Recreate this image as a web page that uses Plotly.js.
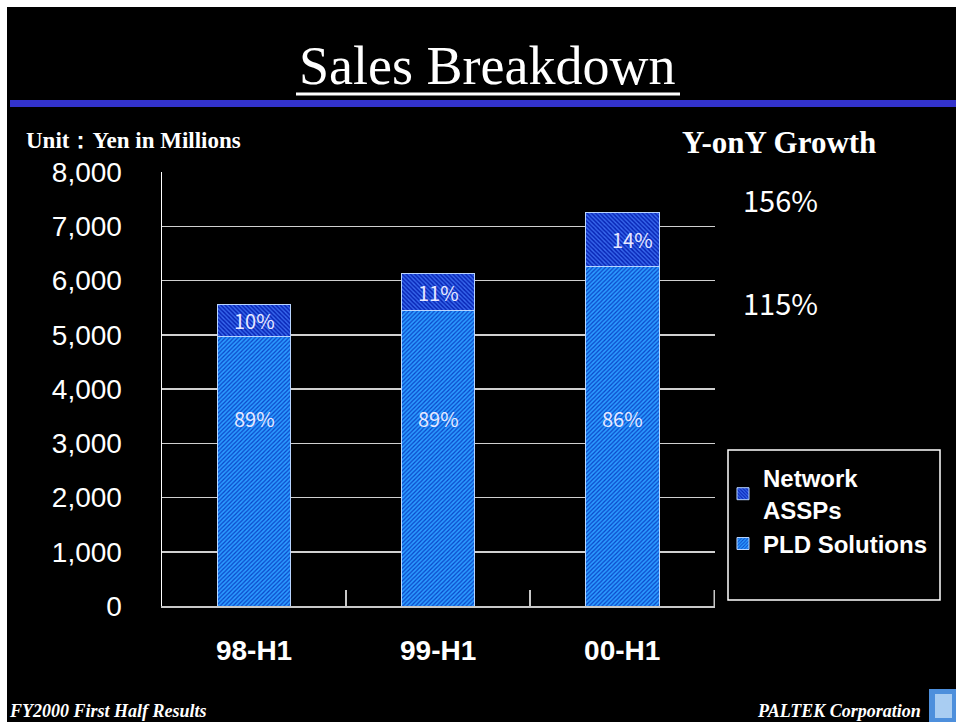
<!DOCTYPE html>
<html>
<head>
<meta charset="utf-8">
<script src="https://cdn.plot.ly/plotly-3.0.1.min.js"></script>
<style>
  html, body { margin: 0; padding: 0; background: #ffffff; }
  #chart { position: absolute; left: 7px; top: 7px; width: 949px; height: 715px; background: #000; }
</style>
</head>
<body>
<div id="chart"></div>
<script>
(function () {
  'use strict';

  /* data (yen, millions) */
  var categories = ['98-H1', '99-H1', '00-H1'];
  var pldSales = [4960, 5455, 6265];
  var networkSales = [590, 665, 995];
  var pldShare = ['89%', '89%', '86%'];
  var networkShare = ['10%', '11%', '14%'];
  var growthLabels = ['156%', '115%'];
  var yTicks = [0, 1000, 2000, 3000, 4000, 5000, 6000, 7000, 8000];

  /* page pixel -> paper coords (div sits at 7,7; plot area 553x434) */
  var L = 155, T = 165, W = 553, H = 434;
  function px(x) { return (x - 7 - L) / W; }
  function py(y) { return (T + H - (y - 7)) / H; }

  var GOTHIC = '"Noto Sans CJK JP", "Noto Sans", sans-serif';
  var SANS = '"Liberation Sans", Arial, sans-serif';
  var SERIF = '"Liberation Serif", "Times New Roman", serif';

  var traces = [
    {
      type: 'bar', x: categories, y: pldSales, name: 'PLD Solutions', width: 0.4,
      marker: {
        color: '#2b9bff',
        line: { color: '#b8d4ff', width: 1 },
        pattern: { shape: '/', fgcolor: '#0b45c8', bgcolor: '#2b9bff', size: 3, solidity: 0.4 }
      },
      hoverinfo: 'skip'
    },
    {
      type: 'bar', x: categories, y: networkSales, name: 'Network<br>ASSPs', width: 0.4,
      marker: {
        color: '#0a28b8',
        line: { color: '#b8d4ff', width: 1 },
        pattern: { shape: '\\', fgcolor: '#3a6cf0', bgcolor: '#0a28b8', size: 3, solidity: 0.45 }
      },
      hoverinfo: 'skip'
    }
  ];

  var anns = [];
  categories.forEach(function (c, i) {
    anns.push({ x: c, y: 3450, xref: 'x', yref: 'y', text: pldShare[i], showarrow: false,
      font: { family: GOTHIC, size: 20, color: '#e8e8ff' } });
    anns.push({ x: c, y: pldSales[i] + networkSales[i] / 2, xref: 'x', yref: 'y', text: networkShare[i],
      showarrow: false, xshift: i === 2 ? 10 : 0,
      font: { family: GOTHIC, size: 20, color: '#e8e8ff' } });
  });
  anns.push(
    { x: px(487), y: py(66), xref: 'paper', yref: 'paper', text: 'Sales Breakdown', showarrow: false,
      xanchor: 'center', yanchor: 'middle', font: { family: SERIF, size: 54, color: '#ffffff' } },
    { x: px(24), y: py(140), xref: 'paper', yref: 'paper', text: 'Unit：Yen in Millions', showarrow: false,
      xanchor: 'left', yanchor: 'middle', font: { family: SERIF, size: 23, color: '#ffffff', weight: 'bold' } },
    { x: px(680), y: py(143), xref: 'paper', yref: 'paper', text: 'Y-onY Growth', showarrow: false,
      xanchor: 'left', yanchor: 'middle', font: { family: SERIF, size: 31, color: '#ffffff', weight: 'bold' } },
    { x: px(741), y: py(199), xref: 'paper', yref: 'paper', text: growthLabels[0], showarrow: false,
      xanchor: 'left', yanchor: 'middle', font: { family: GOTHIC, size: 29, color: '#ffffff' } },
    { x: px(741), y: py(302), xref: 'paper', yref: 'paper', text: growthLabels[1], showarrow: false,
      xanchor: 'left', yanchor: 'middle', font: { family: GOTHIC, size: 29, color: '#ffffff' } },
    { x: px(7), y: py(711), xref: 'paper', yref: 'paper', text: 'FY2000 First Half Results', showarrow: false,
      xanchor: 'left', yanchor: 'middle', font: { family: SERIF, size: 18, color: '#ffffff', weight: 'bold', style: 'italic' } },
    { x: px(923), y: py(711), xref: 'paper', yref: 'paper', text: 'PALTEK Corporation', showarrow: false,
      xanchor: 'right', yanchor: 'middle', font: { family: SERIF, size: 18, color: '#ffffff', weight: 'bold', style: 'italic' } }
  );

  var shapes = [
    /* blue rule under the title */
    { type: 'rect', xref: 'paper', yref: 'paper', x0: px(10), x1: px(960), y0: py(100), y1: py(107),
      fillcolor: '#3333cc', line: { width: 0 }, layer: 'below' },
    /* title underline */
    { type: 'line', xref: 'paper', yref: 'paper', x0: px(296), x1: px(680), y0: py(94), y1: py(94),
      line: { color: '#ffffff', width: 3 } },
    /* last category boundary tick */
    { type: 'line', xref: 'x', yref: 'paper', x0: 2.5, x1: 2.5, y0: 0, y1: 16 / H,
      line: { color: '#c8c8c8', width: 1.5 } },
    /* legend frame */
    { type: 'rect', xref: 'paper', yref: 'paper', x0: px(728), x1: px(940), y0: py(450), y1: py(600),
      line: { color: '#ffffff', width: 1.5 }, fillcolor: 'rgba(0,0,0,0)' },
    /* logo block */
    { type: 'rect', xref: 'paper', yref: 'paper', x0: px(929), x1: px(960), y0: py(689), y1: py(725),
      fillcolor: '#4d8fdc', line: { width: 0 } },
    { type: 'rect', xref: 'paper', yref: 'paper', x0: px(935), x1: px(952), y0: py(694), y1: py(718),
      fillcolor: '#a9cdf2', line: { width: 0 } }
  ];

  var layout = {
    width: 949, height: 715,
    margin: { l: L, r: 949 - L - W, t: T, b: 715 - T - H },
    paper_bgcolor: '#000000', plot_bgcolor: '#000000',
    barmode: 'stack',
    showlegend: true,
    legend: {
      x: px(723), y: py(456), xanchor: 'left', yanchor: 'top', traceorder: 'reversed',
      bgcolor: 'rgba(0,0,0,0)', borderwidth: 0, tracegroupgap: 6,
      font: { family: SANS, size: 24, color: '#ffffff', weight: 'bold' }
    },
    xaxis: {
      type: 'category', fixedrange: true,
      showline: true, linecolor: '#c8c8c8', linewidth: 2,
      ticks: 'inside', tickson: 'boundaries', ticklen: 16, tickcolor: '#c8c8c8', tickwidth: 1.5,
      ticklabelstandoff: 18,
      tickfont: { family: SANS, size: 28, color: '#ffffff', weight: 'bold' },
      showgrid: false
    },
    yaxis: {
      range: [0, 8000], tickvals: yTicks, tickformat: ',d', fixedrange: true,
      showline: true, linecolor: '#ffffff', linewidth: 1.5,
      showgrid: true, gridcolor: '#d0d0d0', gridwidth: 1.5, zeroline: false,
      ticks: '', ticklabelstandoff: 33,
      tickfont: { family: SANS, size: 28, color: '#ffffff' }
    },
    annotations: anns,
    shapes: shapes
  };

  Plotly.newPlot('chart', traces, layout, { displayModeBar: false, staticPlot: true });
})();
</script>
</body>
</html>
